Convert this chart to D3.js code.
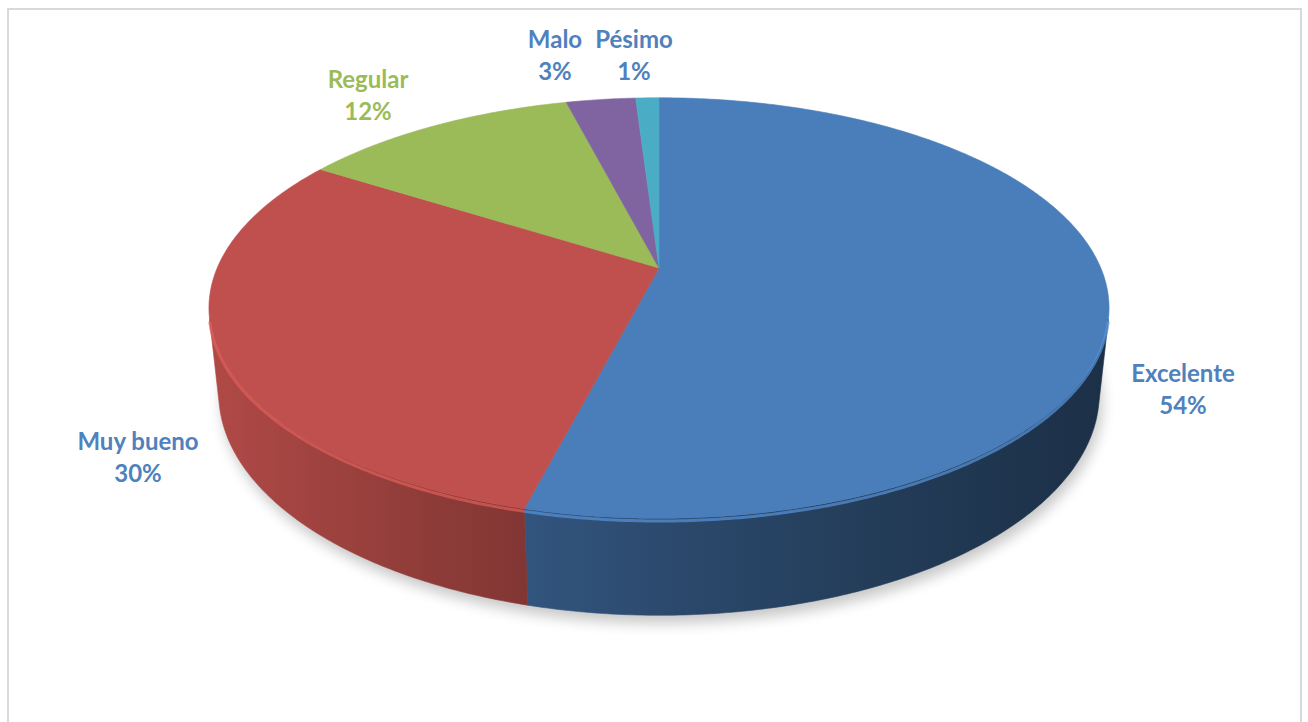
<!DOCTYPE html>
<html>
<head>
<meta charset="utf-8">
<script src="https://cdn.jsdelivr.net/npm/d3@7"></script>
<style>
  body { margin: 0; background: #fff; }
  text { font-family: Lato, "Open Sans", sans-serif; font-weight: bold; }
</style>
</head>
<body>
<svg id="chart" width="1308" height="722"></svg>
<script>
var categories = ['Excelente', 'Muy bueno', 'Regular', 'Malo', 'Pésimo'];
var values = [54, 30, 12, 3, 1];
var percentLabels = ['54%', '30%', '12%', '3%', '1%'];
var sliceColors = ['#4A7EBB', '#C0504D', '#9BBB59', '#8064A2', '#4BACC6'];
var labelColors = ['#4F81BD', '#4F81BD', '#9BBB59', '#4F81BD', '#4F81BD'];
// baseline of the first line of each label
var labelAt = [[1183, 382], [138, 450], [368, 88], [555, 48], [634, 48]];

var svg = d3.select('#chart');
var defs = svg.append('defs');

/* perspective set-up for the 3d pie (radius 1 world units) */
var cx = 659, cy = 268;
var tilt = 27.3 * Math.PI / 180;
var camDist = 4.667, focal = 2062, thick = 0.219;
var sn = Math.sin(tilt), cs = Math.cos(tilt);

function proj(X, Y, Z) {
  var d = camDist - Z * cs - Y * sn;
  return [cx + focal * X / d, cy + focal * (Z * sn - Y * cs) / d];
}
// pie angle (clockwise from the back) to screen point
function rim(a, Y) {
  return proj(Math.sin(a), Y, -Math.cos(a));
}
function arcPts(a0, a1, Y) {
  var n = Math.max(2, Math.ceil((a1 - a0) / 0.01));
  return d3.range(n + 1).map(function(i) { return rim(a0 + (a1 - a0) * i / n, Y); });
}

var line = d3.line();
var pie = d3.pie().sort(null).value(function(d) { return d; });
var arcs = pie(values);

/* chart border */
svg.append('rect')
  .attr('x', 8).attr('y', 9)
  .attr('width', 1293).attr('height', 740)
  .attr('fill', 'none')
  .attr('stroke', '#D9D9D9')
  .attr('stroke-width', 2);

/* soft shadow under the pie */
var blur = defs.append('filter').attr('id', 'shadowBlur')
  .attr('x', '-20%').attr('y', '-20%').attr('width', '140%').attr('height', '140%');
blur.append('feGaussianBlur').attr('stdDeviation', 7);

svg.append('path')
  .attr('d', line(arcPts(0, 2 * Math.PI, -thick)) + 'Z')
  .attr('transform', 'translate(3,8)')
  .attr('fill', '#000')
  .attr('opacity', 0.22)
  .attr('filter', 'url(#shadowBlur)');

/* side walls, only the part that faces the viewer */
var visLo = Math.acos(-1 / (camDist * cs));
var visHi = 2 * Math.PI - visLo;
var xLeft = rim(3 * Math.PI / 2, 0)[0], xRight = rim(Math.PI / 2, 0)[0];

arcs.forEach(function(d, i) {
  var g = defs.append('linearGradient')
    .attr('id', 'wall' + i)
    .attr('gradientUnits', 'userSpaceOnUse')
    .attr('x1', xLeft).attr('x2', xRight)
    .attr('y1', 0).attr('y2', 0);
  [0, 0.25, 0.5, 0.75, 1].forEach(function(t) {
    g.append('stop')
      .attr('offset', t)
      .attr('stop-color', d3.color(sliceColors[i]).darker(0.26 + t * 2.45));
  });
});

var walls = svg.append('g');
arcs.forEach(function(d, i) {
  var lo = Math.max(d.startAngle, visLo), hi = Math.min(d.endAngle, visHi);
  if (hi <= lo) return;
  var pts = arcPts(lo, hi, 0).concat(arcPts(lo, hi, -thick).reverse());
  walls.append('path')
    .attr('d', line(pts) + 'Z')
    .attr('fill', 'url(#wall' + i + ')')
    .attr('stroke', 'url(#wall' + i + ')')
    .attr('stroke-width', 0.6);
});

/* top faces */
var tops = svg.append('g');
arcs.forEach(function(d, i) {
  var pts = [proj(0, 0, 0)].concat(arcPts(d.startAngle, d.endAngle, 0));
  tops.append('path')
    .attr('d', line(pts) + 'Z')
    .attr('fill', sliceColors[i])
    .attr('stroke', sliceColors[i])
    .attr('stroke-width', 0.6);
});

/* light bevel along the front rim */
arcs.forEach(function(d, i) {
  var lo = Math.max(d.startAngle, visLo), hi = Math.min(d.endAngle, visHi);
  if (hi <= lo) return;
  tops.append('path')
    .attr('d', line(arcPts(lo, hi, -0.006)))
    .attr('fill', 'none')
    .attr('stroke', d3.color(sliceColors[i]).brighter(0.45))
    .attr('stroke-width', 3)
    .attr('opacity', 0.7);
});

/* data labels */
var labels = svg.append('g');
categories.forEach(function(name, i) {
  var t = labels.append('text')
    .attr('x', labelAt[i][0])
    .attr('y', labelAt[i][1])
    .attr('text-anchor', 'middle')
    .attr('font-size', 24)
    .attr('fill', labelColors[i]);
  t.append('tspan').attr('x', labelAt[i][0]).text(name);
  t.append('tspan').attr('x', labelAt[i][0]).attr('dy', 32).text(percentLabels[i]);
});
</script>
</body>
</html>
